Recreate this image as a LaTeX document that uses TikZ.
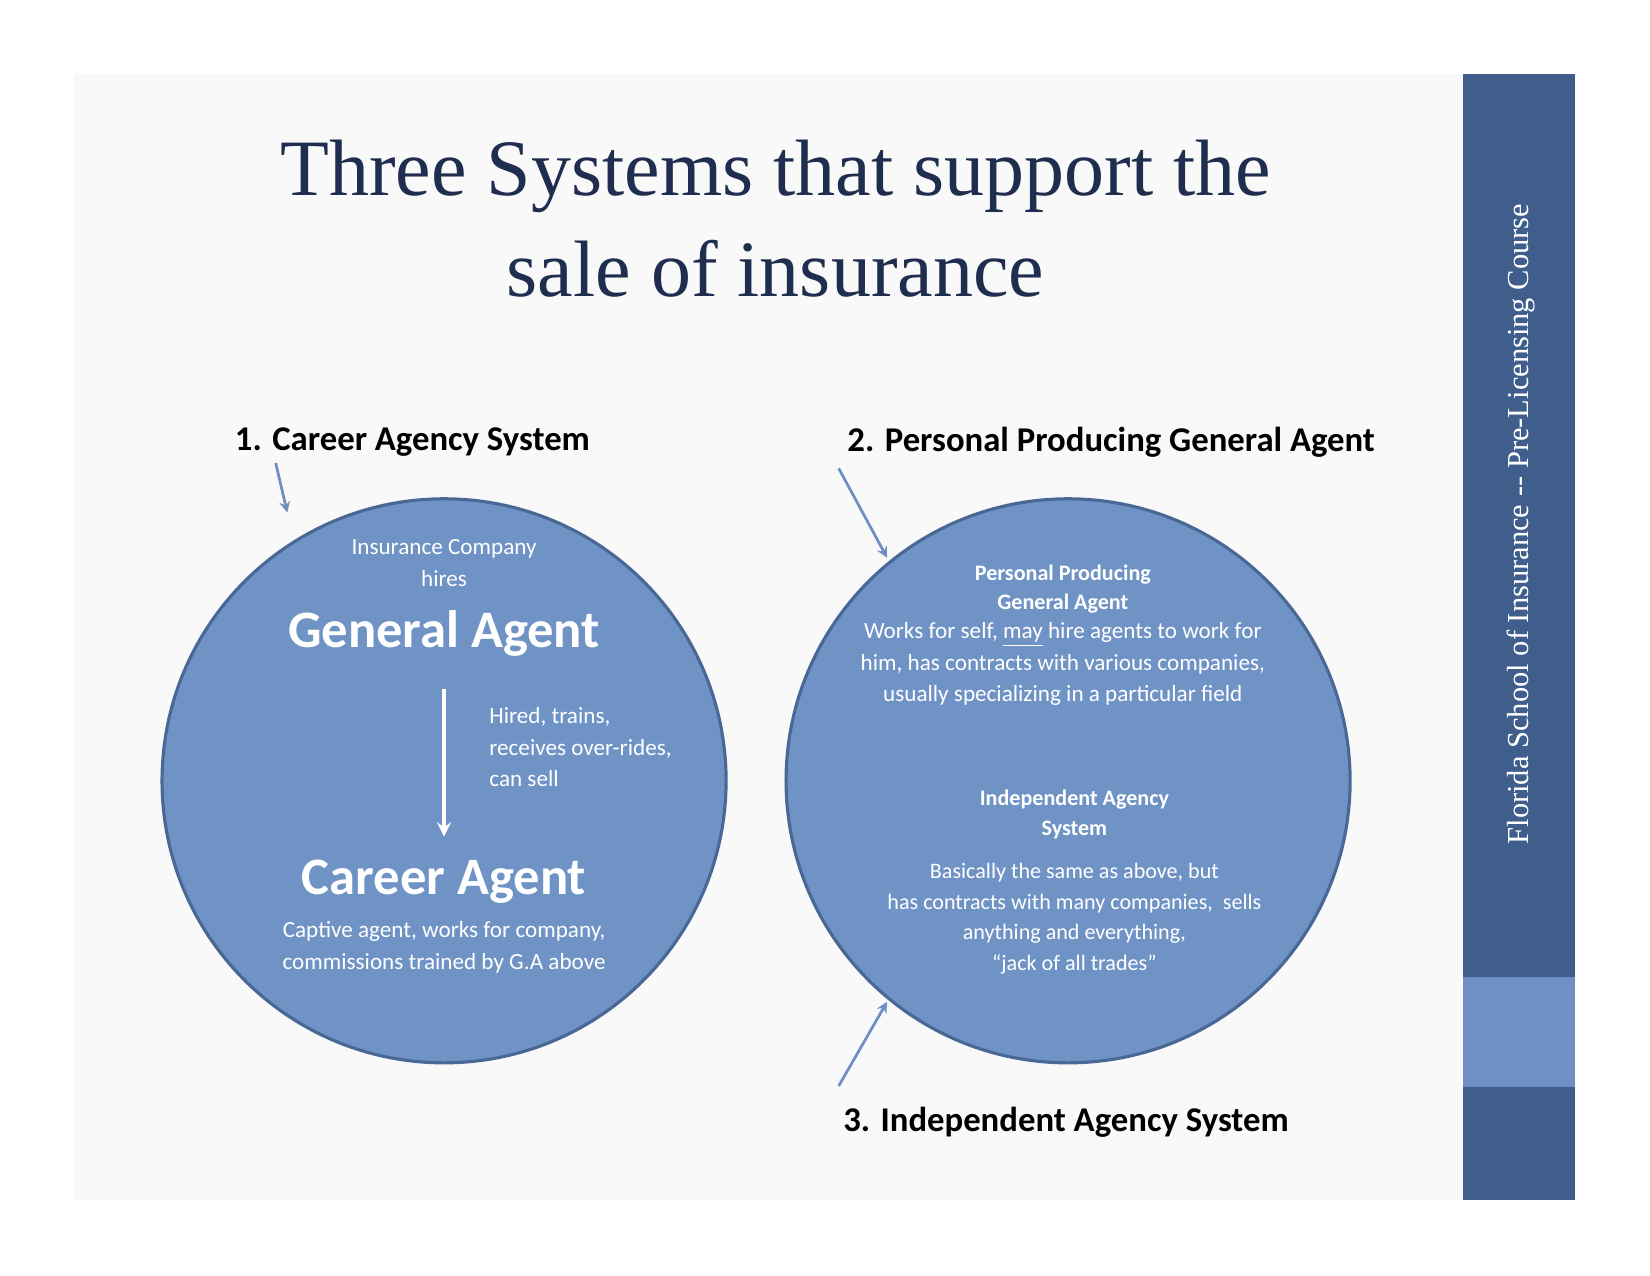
\documentclass[tikz,border=0pt]{standalone}
\usepackage{fontspec}
\setmainfont{Carlito}
\newfontfamily\serifttl{Liberation Serif}
\definecolor{bgc}{HTML}{FAF9F9}
\definecolor{barc}{HTML}{3F5E8C}
\definecolor{barl}{HTML}{7090C4}
\definecolor{circf}{HTML}{7093C6}
\definecolor{circd}{HTML}{4A6896}
\definecolor{ttl}{HTML}{1F2D4F}
\definecolor{arr}{HTML}{6F8FC4}
\begin{document}
\begin{tikzpicture}[x=0.5pt,y=-0.5pt,
  circ/.style={circle,fill=circf,draw=circd,line width=1.5pt,minimum size=536*0.5pt,inner sep=0},
  wt/.style={text=white,align=center,font=\fontsize{11}{15}\selectfont},
  head/.style={font=\bfseries\fontsize{16.5}{20}\selectfont,text=black},
  ptr/.style={draw=arr,line width=1.3pt,-stealth}]
\useasboundingbox (0,0) rectangle (1568,1212);
\fill[white] (0,0) rectangle (1568,1212);
\fill[bgc] (70,70) rectangle (1390,1140);
\fill[barc] (1390,70) rectangle (1497,1140);
\fill[barl] (1390,928) rectangle (1497,1033);
\node[rotate=90,text=white,font=\serifttl\fontsize{14.5}{16}\selectfont] (side) at (1445,498) {Florida School of Insurance -- Pre-Licensing Course};
\node[text=ttl,align=center,font=\serifttl\fontsize{38}{48}\selectfont] (title) at (737,208) {Three Systems that support the\\sale of insurance};
\node[circ] (c1) at (422,742) {};
\node[circ] (c2) at (1015,742) {};
\node[head] (h1) at (392,420) {1. Career Agency System};
\node[head] (h2) at (1056,420) {2. Personal Producing General Agent};
\node[head] (h3) at (1013,1066) {3. Independent Agency System};
\coordinate (a1) at (262,440); \coordinate (a1e) at (273,487);
\coordinate (a2) at (797,445); \coordinate (a2e) at (843,530);
\coordinate (a3) at (797,1032); \coordinate (a3e) at (843,952);
\draw[ptr] (a1) -- (a1e);
\draw[ptr] (a2) -- (a2e);
\draw[ptr] (a3) -- (a3e);
\node[wt] (ic) at (422,535) {Insurance Company\\hires};
\node[wt,font=\bfseries\fontsize{25}{30}\selectfont] (ga) at (422,602) {General Agent};
\node[wt,font=\bfseries\fontsize{25}{30}\selectfont] (ca) at (422,838) {Career Agent};
\draw[white,line width=2pt,-stealth] (422,655) -- (422,795);
\node[wt,align=left,anchor=west] (ht) at (458,710) {Hired, trains,\\receives over-rides,\\can sell};
\node[wt] (cap) at (422,900) {Captive agent, works for company,\\commissions trained by G.A above};
\node[wt,font=\bfseries\fontsize{10.5}{14}\selectfont] (pp) at (1010,560) {Personal Producing\\General Agent};
\node[wt] (wf) at (1010,631) {Works for self, \underline{may} hire agents to work for\\him, has contracts with various companies,\\usually specializing in a particular field};
\node[wt,font=\bfseries\fontsize{10.5}{14}\selectfont] (ia) at (1021,774) {Independent Agency\\System};
\node[wt,font=\fontsize{10.5}{14.5}\selectfont] (bs) at (1021,873) {Basically the same as above, but\\has contracts with many companies,\ \ sells\\anything and everything,\\``jack of all trades''};
\end{tikzpicture}
\end{document}
